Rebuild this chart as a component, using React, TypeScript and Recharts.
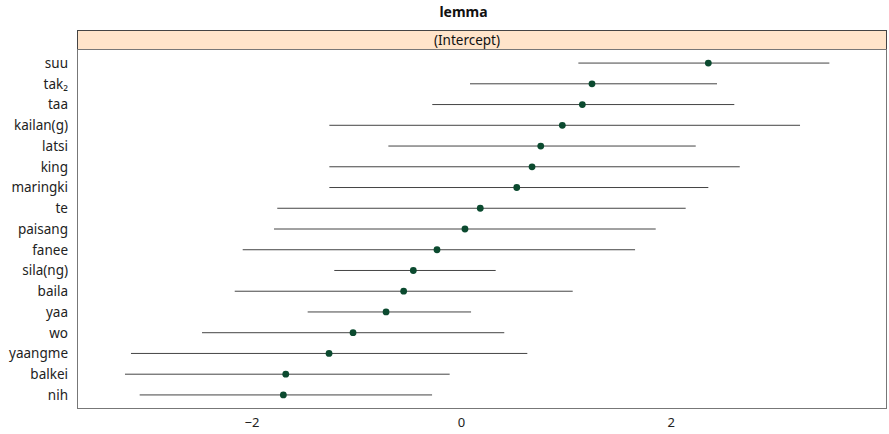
import React from 'react';
import { ScatterChart, Scatter, XAxis, YAxis, ErrorBar } from 'recharts';

const categories = ['suu', 'tak₂', 'taa', 'kailan(g)', 'latsi', 'king', 'maringki', 'te', 'paisang', 'fanee', 'sila(ng)', 'baila', 'yaa', 'wo', 'yaangme', 'balkei', 'nih'];
const estimates = [2.355, 1.245, 1.153, 0.962, 0.756, 0.673, 0.527, 0.179, 0.033, -0.234, -0.46, -0.552, -0.72, -1.035, -1.264, -1.677, -1.7];
const lower = [1.115, 0.081, -0.279, -1.261, -0.698, -1.261, -1.261, -1.758, -1.789, -2.088, -1.214, -2.164, -1.468, -2.476, -3.154, -3.211, -3.071];
const upper = [3.51, 2.438, 2.603, 3.23, 2.235, 2.655, 2.355, 2.139, 1.853, 1.656, 0.326, 1.061, 0.091, 0.408, 0.628, -0.113, -0.281];
const xTicks = [-2, 0, 2];

const data = categories.map((name, i) => ({
  idx: i,
  name,
  est: estimates[i],
  err: [estimates[i] - lower[i], upper[i] - estimates[i]],
}));

const FONT = '"Noto Sans", sans-serif';

const Dot = (props: any) => {
  const { cx, cy } = props;
  if (cx == null || cy == null) return null;
  return <circle cx={cx} cy={cy} r={3.4} fill="#0b4a2f" stroke="none" />;
};

export default function App() {
  return (
    <div style={{ position: 'absolute', left: 0, top: 0, width: 889, height: 434, background: '#fff', fontFamily: FONT }}>
      <ScatterChart width={889} height={434} margin={{ top: 50, right: 2, bottom: 0, left: 0 }}>
        <XAxis
          type="number"
          dataKey="est"
          domain={[-3.669, 4.06]}
          allowDataOverflow
          ticks={xTicks}
          tickFormatter={(v: number) => String(v).replace('-', '\u2212')}
          tickLine={false}
          axisLine={false}
          tickSize={0}
          tickMargin={10}
          height={26}
          tick={{ fontSize: 13, fill: '#222', fontFamily: FONT }}
        />
        <YAxis
          type="number"
          dataKey="idx"
          domain={[-0.63, 16.63]}
          reversed
          allowDataOverflow
          ticks={categories.map((_, i) => i)}
          interval={0}
          tickFormatter={(v: number) => categories[v] ?? ''}
          tickLine={false}
          axisLine={false}
          tickSize={0}
          tickMargin={9}
          width={77}
          tick={{ fontSize: 13.5, fill: '#222', fontFamily: FONT }}
        />
        <Scatter data={data} shape={<Dot />} isAnimationActive={false}>
          <ErrorBar dataKey="err" direction="x" width={0} stroke="#444" strokeWidth={1} isAnimationActive={false} />
        </Scatter>
      </ScatterChart>
      <div style={{ position: 'absolute', left: 0, top: 2, width: 889, textAlign: 'center', fontWeight: 'bold', fontSize: 14, color: '#111', paddingLeft: 38, boxSizing: 'border-box' }}>
        lemma
      </div>
      <div style={{ position: 'absolute', left: 77, top: 30, width: 810, height: 20, boxSizing: 'border-box', background: '#FFE4CA', border: '1px solid #444', textAlign: 'center', fontSize: 13.5, lineHeight: '18px', color: '#111', paddingRight: 30 }}>
        (Intercept)
      </div>
      <div style={{ position: 'absolute', left: 77, top: 49, width: 810, height: 360, boxSizing: 'border-box', border: '1px solid #777', pointerEvents: 'none' }} />
    </div>
  );
}
